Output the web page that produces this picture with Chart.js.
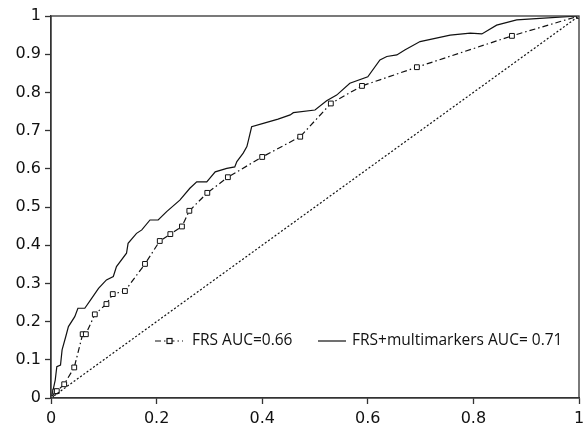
<!DOCTYPE html>
<html>
<head>
<meta charset="utf-8">
<script src="https://cdn.jsdelivr.net/npm/chart.js@4"></script>
<style>
  html, body { margin: 0; padding: 0; background: #fff; }
  #wrap { width: 586px; height: 425px; position: relative; }
  canvas { display: block; }
</style>
</head>
<body>
<div id="wrap"><canvas id="c" width="586" height="425"></canvas></div>
<script>
// ---- Data ----
const frsX = [0, 0.008, 0.011, 0.025, 0.044, 0.060, 0.066, 0.083, 0.105, 0.117, 0.140, 0.178, 0.206, 0.226, 0.248, 0.262, 0.296, 0.335, 0.400, 0.472, 0.530, 0.589, 0.693, 0.873, 1];
const frsY = [0, 0.017, 0.018, 0.036, 0.080, 0.167, 0.167, 0.219, 0.246, 0.272, 0.280, 0.351, 0.411, 0.429, 0.449, 0.490, 0.537, 0.578, 0.631, 0.684, 0.771, 0.817, 0.866, 0.948, 1];

const multiX = [0, 0.004, 0.008, 0.011, 0.018, 0.021, 0.028, 0.033, 0.045, 0.051, 0.064, 0.077, 0.090, 0.105, 0.118, 0.124, 0.143, 0.146, 0.162, 0.172, 0.1875, 0.203, 0.219, 0.244, 0.263, 0.276, 0.295, 0.311, 0.333, 0.348, 0.352, 0.364, 0.371, 0.374, 0.380, 0.402, 0.430, 0.453, 0.459, 0.500, 0.522, 0.541, 0.566, 0.600, 0.623, 0.636, 0.655, 0.670, 0.699, 0.756, 0.794, 0.816, 0.844, 0.882, 0.926, 1];
const multiY = [0, 0.021, 0.047, 0.082, 0.086, 0.126, 0.161, 0.187, 0.213, 0.235, 0.235, 0.261, 0.287, 0.309, 0.318, 0.344, 0.379, 0.405, 0.431, 0.440, 0.466, 0.466, 0.488, 0.518, 0.549, 0.566, 0.566, 0.592, 0.601, 0.605, 0.619, 0.641, 0.658, 0.675, 0.710, 0.719, 0.730, 0.741, 0.747, 0.754, 0.778, 0.793, 0.824, 0.841, 0.885, 0.894, 0.898, 0.911, 0.933, 0.950, 0.955, 0.953, 0.976, 0.990, 0.994, 1];

const refX = [0, 1];
const refY = [0, 1];

const seriesLabels = ['FRS AUC=0.66', 'FRS+multimarkers AUC= 0.71'];
const xTickLabels = ['0', '0.2', '0.4', '0.6', '0.8', '1'];
const yTickLabels = ['0', '0.1', '0.2', '0.3', '0.4', '0.5', '0.6', '0.7', '0.8', '0.9', '1'];

// ---- Build ----
const toPts = (xs, ys) => xs.map((x, i) => ({ x: x, y: ys[i] }));
const FONT = '"Open Sans", "DejaVu Sans", sans-serif';
const TICKFONT = '"DejaVu Sans", sans-serif';
const INK = '#111';
const FRS_DASH = [6, 3, 1.5, 3];

const framePlugin = {
  id: 'frame',
  afterDraw(chart) {
    const { ctx, chartArea: a } = chart;
    ctx.save();
    ctx.strokeStyle = '#333';
    ctx.lineWidth = 1.3;
    ctx.strokeRect(a.left, a.top, a.right - a.left, a.bottom - a.top);
    ctx.restore();
  }
};

const legendPlugin = {
  id: 'innerLegend',
  afterDraw(chart) {
    const { ctx, chartArea: a } = chart;
    const y = a.bottom - 57;
    ctx.save();
    ctx.font = '15.5px ' + FONT;
    ctx.fillStyle = INK;
    ctx.textBaseline = 'middle';
    ctx.strokeStyle = INK;
    // item 1: FRS
    let x0 = a.left + 104;
    ctx.lineWidth = 1.2;
    ctx.setLineDash(FRS_DASH);
    ctx.beginPath(); ctx.moveTo(x0, y); ctx.lineTo(x0 + 28, y); ctx.stroke();
    ctx.setLineDash([]);
    ctx.fillStyle = '#fff';
    ctx.fillRect(x0 + 12, y - 2.5, 5, 5);
    ctx.strokeRect(x0 + 12, y - 2.5, 5, 5);
    ctx.fillStyle = INK;
    ctx.fillText(seriesLabels[0], x0 + 37, y);
    // item 2: multimarkers
    let x1 = a.left + 267;
    ctx.lineWidth = 1.2;
    ctx.beginPath(); ctx.moveTo(x1, y); ctx.lineTo(x1 + 28, y); ctx.stroke();
    ctx.fillText(seriesLabels[1], x1 + 34, y);
    ctx.restore();
  }
};

new Chart(document.getElementById('c'), {
  type: 'line',
  data: {
    datasets: [
      {
        label: 'reference',
        data: toPts(refX, refY),
        borderColor: INK,
        borderWidth: 1.2,
        borderDash: [2, 2],
        pointRadius: 0,
        tension: 0
      },
      {
        label: seriesLabels[0],
        data: toPts(frsX, frsY),
        borderColor: INK,
        borderWidth: 1.2,
        borderDash: FRS_DASH,
        pointStyle: 'rect',
        pointRadius: 3.4,
        pointBorderWidth: 1,
        pointBorderColor: INK,
        pointBackgroundColor: '#fff',
        tension: 0
      },
      {
        label: seriesLabels[1],
        data: toPts(multiX, multiY),
        borderColor: INK,
        borderWidth: 1.2,
        pointRadius: 0,
        tension: 0
      }
    ]
  },
  options: {
    responsive: false,
    animation: false,
    devicePixelRatio: 1,
    layout: { padding: { top: 16, right: 7, left: 0, bottom: 0 } },
    plugins: { legend: { display: false }, tooltip: { enabled: false } },
    scales: {
      x: {
        type: 'linear',
        min: 0, max: 1,
        afterFit(s) { s.height = 27; s.paddingLeft = 0; s.paddingRight = 0; },
        border: { color: '#333', width: 1.3 },
        grid: { drawOnChartArea: false, tickLength: 6, color: '#333', tickWidth: 1.3 },
        ticks: {
          stepSize: 0.2,
          padding: 5,
          color: INK,
          font: { family: TICKFONT, size: 16 },
          maxRotation: 0,
          callback: (v, i) => xTickLabels[i]
        }
      },
      y: {
        type: 'linear',
        min: 0, max: 1,
        afterFit(s) { s.width = 51; s.paddingTop = 0; s.paddingBottom = 0; },
        border: { color: '#333', width: 1.3 },
        grid: { drawOnChartArea: false, tickLength: 6, color: '#333', tickWidth: 1.3 },
        ticks: {
          stepSize: 0.1,
          padding: 4,
          color: INK,
          font: { family: TICKFONT, size: 16 },
          callback: (v, i) => yTickLabels[i]
        }
      }
    }
  },
  plugins: [framePlugin, legendPlugin]
});
</script>
</body>
</html>
